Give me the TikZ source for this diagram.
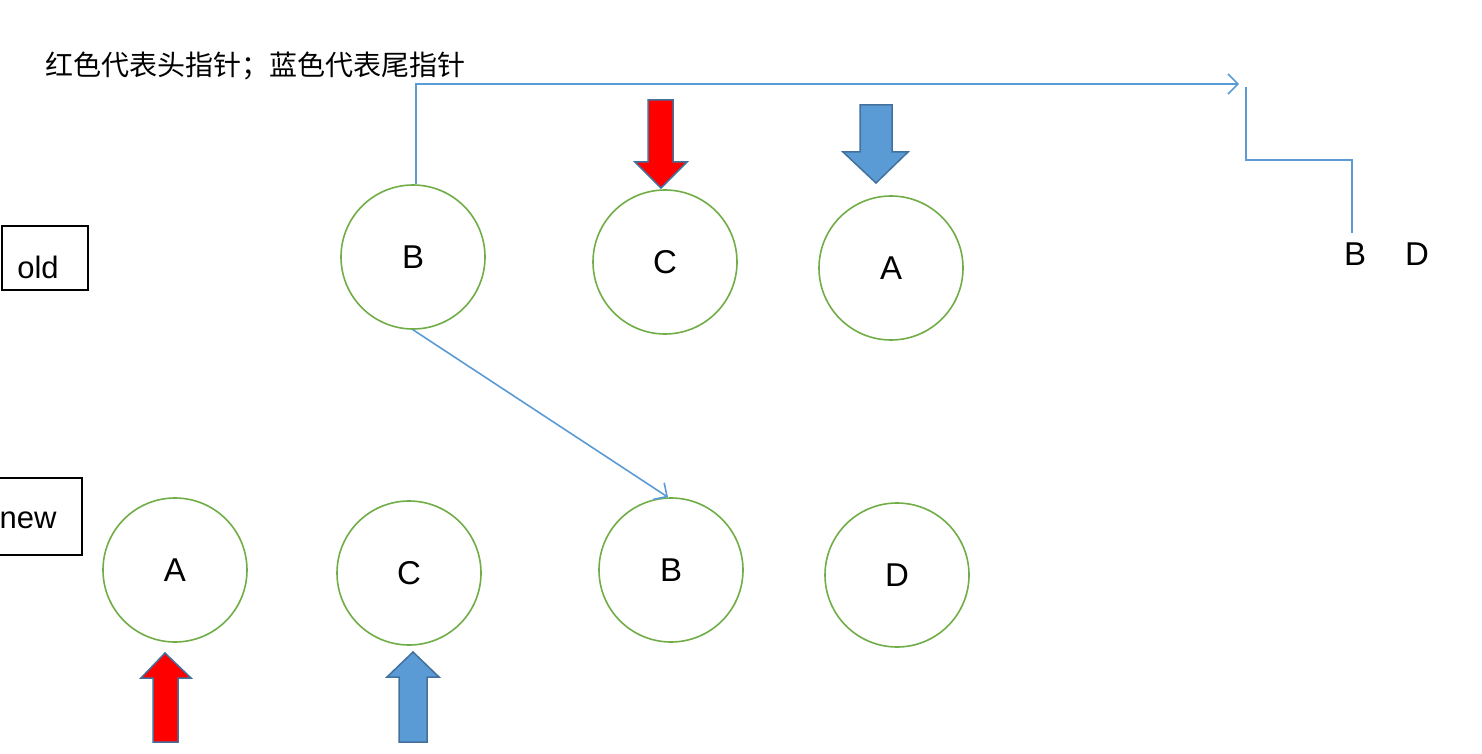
\documentclass[tikz,border=0pt]{standalone}
\usepackage{fontspec}
\setmainfont{Liberation Sans}
\newfontfamily\cjk{Noto Sans CJK SC}
\usetikzlibrary{arrows.meta}
\definecolor{cgreen}{HTML}{70AD47}
\definecolor{cblue}{HTML}{5B9BD5}
\definecolor{cedge}{HTML}{41719C}
\tikzset{
  ring/.style={circle,draw=cgreen,line width=1.6pt,minimum size=144pt,inner sep=0pt,font=\fontsize{33}{37}\selectfont},
  tag/.style={draw=black,line width=1.6pt,inner sep=0pt},
  conn/.style={draw=cblue,line width=1.6pt},
  tipconn/.style={conn,-{Straight Barb[length=10pt,width=20pt,line width=1.6pt]}},
  redarrow/.style={fill=red,draw=cedge,line width=1.5pt,line join=miter},
  bluearrow/.style={fill=cblue,draw=cedge,line width=1.5pt,line join=miter},
  plain/.style={inner sep=0pt,font=\fontsize{33}{37}\selectfont}
}
\begin{document}
\begin{tikzpicture}[x=1pt,y=-1pt]
\useasboundingbox (0,0) rectangle (1482,754);
% title
\node[inner sep=0pt,anchor=west,font=\cjk\fontsize{28}{31}\selectfont] (title) at (45,66) {红色代表头指针；蓝色代表尾指针};
% labels
\node[tag,minimum width=86pt,minimum height=64pt] (old) at (45,258) {};
\node[plain,font=\fontsize{31}{35}\selectfont] (oldt) at (38,267) {old};
\node[tag,minimum width=92pt,minimum height=77pt] (new) at (36,516.5) {};
\node[plain,font=\fontsize{31}{35}\selectfont] (newt) at (28,520) {new};
% old row
\node[ring] (oB) at (413,257) {B};
\node[ring] (oC) at (665,262) {C};
\node[ring] (oA) at (891,268) {A};
% new row
\node[ring] (nA) at (175,570) {A};
\node[ring] (nC) at (409,573) {C};
\node[ring] (nB) at (671,570) {B};
\node[ring] (nD) at (897,575) {D};
% right labels
\node[plain] (rB) at (1355,254) {B};
\node[plain] (rD) at (1417,254) {D};
% connectors
\coordinate (t1) at (1239,84);
\coordinate (s1) at (1246,87);
\coordinate (s2) at (1352,160);
\coordinate (e1) at (1352,233);
\draw[tipconn] ([xshift=3pt]oB.north) |- (t1);
\draw[conn] (s1) |- (s2) -- (e1);
\draw[tipconn] (oB.south) -- ([xshift=-3pt]nB.north);
% block arrows (top, pointing down)
\draw[redarrow] (648,100) -- (673,100) -- (673,162) -- (687,162) -- (661,188) -- (635,162) -- (648,162) -- cycle;
\draw[bluearrow] (860,105) -- (892,105) -- (892,152) -- (908,152) -- (876,183) -- (843,152) -- (860,152) -- cycle;
% block arrows (bottom, pointing up)
\draw[redarrow] (153,742) -- (178,742) -- (178,678) -- (191,678) -- (165,653) -- (141,678) -- (153,678) -- cycle;
\draw[bluearrow] (399,742) -- (427,742) -- (427,677) -- (439,677) -- (413,652) -- (387,677) -- (399,677) -- cycle;
\end{tikzpicture}
\end{document}
